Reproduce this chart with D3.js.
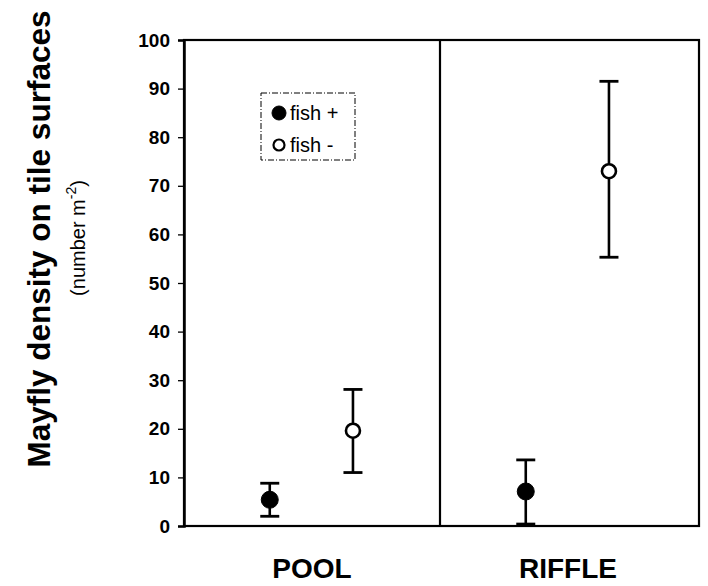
<!DOCTYPE html>
<html><head><meta charset="utf-8">
<script src="https://cdn.jsdelivr.net/npm/d3@7"></script>
<style>body{margin:0;background:#fff}svg{display:block}text{font-family:"Liberation Sans",Arial,sans-serif;fill:#000}</style>
</head><body>
<svg id="c" width="708" height="586"></svg>
<script>
const habitats = ["POOL", "RIFFLE"];
const groups = ["fish +", "fish -"];
const means = [[5.4, 19.6], [7.1, 73.0]];
const lower = [[2.0, 11.0], [0.4, 55.3]];
const upper = [[8.8, 28.1], [13.6, 91.5]];
const yTicks = [0, 10, 20, 30, 40, 50, 60, 70, 80, 90, 100];

const svg = d3.select("#c");
const L = 184, R = 699, T = 40, B = 526;
const y = d3.scaleLinear().domain([0, 100]).range([B, T]);
const xH = d3.scaleBand().domain(habitats).range([L, R - 3]).paddingInner(0).paddingOuter(0);

// frame
svg.append("rect").attr("x", L).attr("y", T).attr("width", R - L).attr("height", B - T)
  .attr("fill", "none").attr("stroke", "#000").attr("stroke-width", 2.2);
// divider
svg.append("line").attr("x1", xH("RIFFLE")).attr("x2", xH("RIFFLE")).attr("y1", T).attr("y2", B)
  .attr("stroke", "#000").attr("stroke-width", 2.2);

// y axis
const ax = svg.append("g").attr("transform", `translate(${L},0)`)
  .call(d3.axisLeft(y).tickValues(yTicks).tickSize(6).tickPadding(8));
ax.select(".domain").attr("stroke-width", 2.5);
ax.selectAll(".tick line").attr("stroke-width", 1.3);
ax.selectAll(".tick text").style("font-size", "19px").style("font-weight", "bold")
  .style("font-family", "'Liberation Sans',Arial,sans-serif").attr("fill", "#000");

// x labels
svg.selectAll(".xl").data(habitats).enter().append("text")
  .attr("x", d => xH(d) + xH.bandwidth() / 2).attr("y", 578)
  .attr("text-anchor", "middle").style("font-size", "28px").style("font-weight", "bold").text(d => d);

// y titles
svg.append("text").attr("transform", "translate(50,239) rotate(-90)").attr("text-anchor", "middle")
  .style("font-size", "31.5px").style("font-weight", "bold").text("Mayfly density on tile surfaces");
const sub = svg.append("text").attr("transform", "translate(85,238) rotate(-90)").attr("text-anchor", "middle")
  .style("font-size", "20px");
sub.append("tspan").text("(number m");
sub.append("tspan").attr("dy", -9).style("font-size", "14px").text("-2");
sub.append("tspan").attr("dy", 9).text(")");

// points
const pts = [];
habitats.forEach((h, i) => groups.forEach((g, j) => pts.push({h, g, j, m: means[i][j], lo: lower[i][j], hi: upper[i][j]})));
const px = d => xH(d.h) + (d.g === "fish +" ? 0.335 : 0.66) * xH.bandwidth();
const gp = svg.append("g");
pts.forEach(d => {
  const cx = px(d);
  gp.append("line").attr("x1", cx).attr("x2", cx).attr("y1", y(d.lo)).attr("y2", y(d.hi)).attr("stroke", "#000").attr("stroke-width", 2.6);
  [d.lo, d.hi].forEach(v => gp.append("line").attr("x1", cx - 9.5).attr("x2", cx + 9.5).attr("y1", y(v)).attr("y2", y(v))
    .attr("stroke", "#000").attr("stroke-width", 2.8));
  gp.append("circle").attr("cx", cx).attr("cy", y(d.m)).attr("r", d.g === "fish +" ? 8.5 : 7)
    .attr("fill", d.g === "fish +" ? "#000" : "#fff").attr("stroke", "#000").attr("stroke-width", d.g === "fish +" ? 1 : 2.6);
});

// legend
const lg = svg.append("g");
lg.append("rect").attr("x", 261).attr("y", 93).attr("width", 94).attr("height", 67)
  .attr("fill", "#fff").attr("stroke", "#000").attr("stroke-width", 1).attr("stroke-dasharray", "6,2,1,2");
groups.forEach((g, j) => {
  const yy = 113 + j * 32;
  lg.append("circle").attr("cx", 279).attr("cy", yy).attr("r", j === 0 ? 7 : 5.5)
    .attr("fill", j === 0 ? "#000" : "#fff").attr("stroke", "#000").attr("stroke-width", j === 0 ? 1 : 2.2);
  lg.append("text").attr("x", 290).attr("y", yy + 7).style("font-size", "20px").text(g);
});
</script>
</body></html>
